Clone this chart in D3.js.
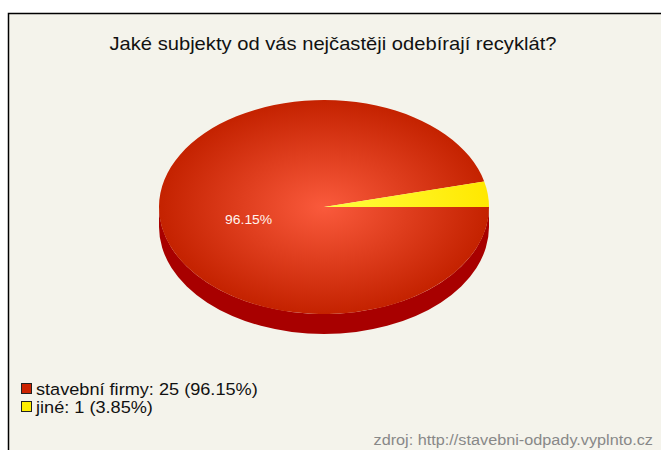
<!DOCTYPE html>
<html>
<head>
<meta charset="utf-8">
<script src="https://cdn.jsdelivr.net/npm/d3@7"></script>
<style>
  body { margin: 0; background: #fff; }
  text { font-family: "Liberation Sans", Arial, sans-serif; }
</style>
</head>
<body>
<div id="chart"></div>
<script>
// chart data
const title = "Jaké subjekty od vás nejčastěji odebírají recyklát?"
const categories = ["stavební firmy", "jiné"]
const counts = [25, 1]
const source = "zdroj: http://stavebni-odpady.vyplnto.cz"

const width = 661
const height = 450

// pie geometry (ellipse, 3d depth)
const cx = 324, cy = 207
const rx = 165, ry = 107
const depth = 20

const total = d3.sum(counts)
const pct = counts.map(c => (c / total * 100).toFixed(2) + "%")

const svg = d3.select("#chart")
    .append("svg")
    .attr("width", width)
    .attr("height", height)

const defs = svg.append("defs")

const gradRed = defs.append("radialGradient")
    .attr("id", "gradRed")
    .attr("gradientUnits", "userSpaceOnUse")
    .attr("cx", 0).attr("cy", 0).attr("r", rx)
gradRed.append("stop").attr("offset", "0%").attr("stop-color", "#fa5a3c")
gradRed.append("stop").attr("offset", "100%").attr("stop-color", "#c42200")

const gradYel = defs.append("radialGradient")
    .attr("id", "gradYel")
    .attr("gradientUnits", "userSpaceOnUse")
    .attr("cx", 0).attr("cy", 0).attr("r", rx)
gradYel.append("stop").attr("offset", "0%").attr("stop-color", "#ffff40")
gradYel.append("stop").attr("offset", "100%").attr("stop-color", "#ffe800")

const topFill = ["url(#gradRed)", "url(#gradYel)"]
const sideFill = ["#a80000", "#c8b000"]
const legendFill = ["#cc2200", "#ffee00"]

// the original text is a bit wider than Liberation Sans, stretch it sideways
const stretchText = (sel, x, y, sx) => sel
    .attr("x", x / sx).attr("y", y)
    .attr("transform", `scale(${sx},1)`)

// frame
svg.append("rect")
    .attr("x", 8.5).attr("y", 13.5)
    .attr("width", width + 10).attr("height", height + 10)
    .attr("fill", "#f4f3eb")
    .attr("stroke", "#000")
    .attr("stroke-width", 1.5)

svg.append("text")
    .call(stretchText, 333, 50, 1.12)
    .attr("text-anchor", "middle")
    .attr("font-size", 18)
    .attr("fill", "#111")
    .text(title)

// start at 3 o'clock, clockwise, so the small slice ends up above the right edge
const pie = d3.pie().sort(null)
    .startAngle(Math.PI / 2)
    .endAngle(Math.PI / 2 + 2 * Math.PI)
const arcs = pie(counts)

const ex = a => rx * Math.sin(a)
const ey = a => -ry * Math.cos(a)

// side walls for the front half (angles pi/2 .. 3pi/2)
const sides = svg.append("g").attr("transform", `translate(${cx},${cy})`)
arcs.forEach((d, i) => {
    const a0 = Math.max(d.startAngle, Math.PI / 2)
    const a1 = Math.min(d.endAngle, 3 * Math.PI / 2)
    if (a1 <= a0) return
    const large = (a1 - a0) > Math.PI ? 1 : 0
    const s = `M${ex(a0)},${ey(a0)} A${rx},${ry} 0 ${large} 1 ${ex(a1)},${ey(a1)}` +
        ` L${ex(a1)},${ey(a1) + depth} A${rx},${ry} 0 ${large} 0 ${ex(a0)},${ey(a0) + depth} Z`
    sides.append("path").attr("d", s).attr("fill", sideFill[i])
})

const arc = d3.arc().innerRadius(0).outerRadius(rx)
svg.append("g")
    .attr("transform", `translate(${cx},${cy}) scale(1,${ry / rx})`)
    .selectAll("path")
    .data(arcs)
    .join("path")
    .attr("d", arc)
    .attr("fill", (d, i) => topFill[i])

// label on the big slice
const big = arcs[0]
const mid = (big.startAngle + big.endAngle) / 2
svg.append("text")
    .call(stretchText, cx + ex(mid) * 0.46, cy + ey(mid) * 0.46 + 11, 1.07)
    .attr("text-anchor", "middle")
    .attr("font-size", 13)
    .attr("fill", "#fff4ee")
    .text(pct[0])

// legend
const legend = svg.append("g")
    .selectAll("g")
    .data(categories)
    .join("g")
    .attr("transform", (d, i) => `translate(21,${383 + i * 18})`)
legend.append("rect")
    .attr("x", 0.5).attr("y", 0.5)
    .attr("width", 10).attr("height", 10)
    .attr("fill", (d, i) => legendFill[i])
    .attr("stroke", "#222")
legend.append("text")
    .call(stretchText, 15, 12, 1.1)
    .attr("font-size", 16.5)
    .attr("fill", "#111")
    .text((d, i) => `${d}: ${counts[i]} (${pct[i]})`)

svg.append("text")
    .call(stretchText, 653, 445, 1.16)
    .attr("text-anchor", "end")
    .attr("font-size", 14)
    .attr("fill", "#888")
    .text(source)
</script>
</body>
</html>
